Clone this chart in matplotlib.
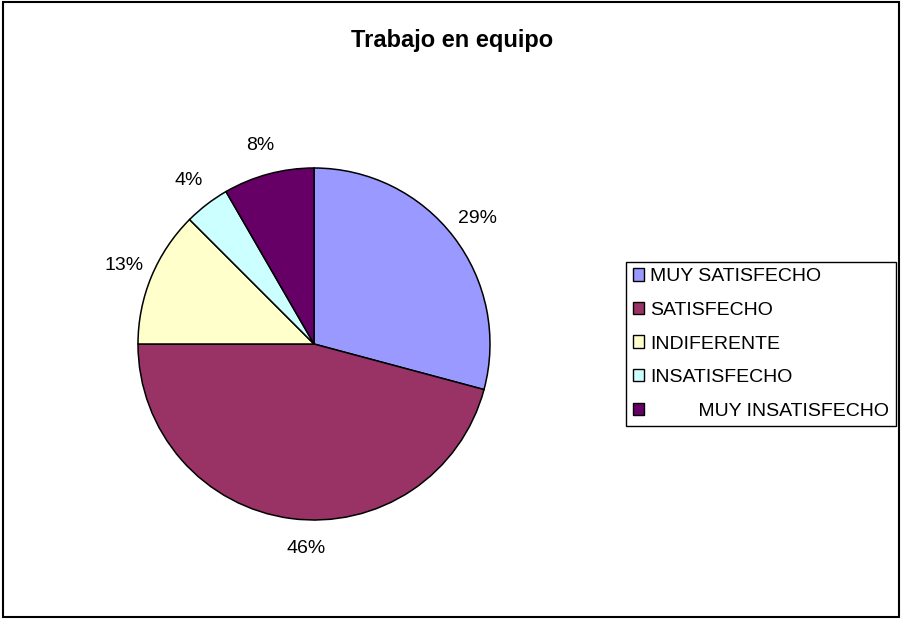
import math
import matplotlib
matplotlib.use("Agg")
import matplotlib.pyplot as plt
from matplotlib.patches import Rectangle

plt.rcParams['font.family'] = ['Liberation Sans', 'DejaVu Sans']

# Datos de la encuesta
categorias = ['MUY SATISFECHO', 'SATISFECHO', 'INDIFERENTE', 'INSATISFECHO',
              '         MUY INSATISFECHO']
respuestas = [7, 11, 3, 1, 2]
colores = ['#9999FF', '#993366', '#FFFFCC', '#CCFFFF', '#660066']

W, H = 901, 619
fig = plt.figure(figsize=(W / 100, H / 100), dpi=100)

# Marco exterior
fig.patches.append(Rectangle((3 / W, 2 / H), 896 / W, 615 / H, transform=fig.transFigure,
                             fill=False, edgecolor='black', linewidth=1.5))

# Pastel: centro (314, 344), radio 176 px
cx, cy, r = 314, 344, 176
ax = fig.add_axes([(cx - r) / W, (H - cy - r) / H, 2 * r / W, 2 * r / H])


def etiqueta(p):
    return '%d%%' % math.floor(p + 0.5)


wedges, texts, autotexts = ax.pie(respuestas, colors=colores, startangle=90, counterclock=False,
                                  autopct=etiqueta, pctdistance=1.17,
                                  wedgeprops=dict(edgecolor='black', linewidth=1.1),
                                  textprops=dict(fontsize=14))
ax.set_xlim(-1, 1)
ax.set_ylim(-1, 1)
ax.set_aspect('equal')

# ajuste de la etiqueta inferior como en el original
x0, y0 = autotexts[1].get_position()
autotexts[1].set_position((x0 + 0.11, y0))

fig.text(452 / W, 1 - 47 / H, 'Trabajo en equipo', ha='center', va='baseline',
         fontsize=17, fontweight='bold')

leg = fig.legend(wedges, categorias, loc='center left', bbox_to_anchor=(626 / W, 1 - 344 / H),
                 bbox_transform=fig.transFigure, fontsize=14, frameon=True, fancybox=False,
                 edgecolor='black', framealpha=1, handlelength=0.6, handleheight=0.6,
                 handletextpad=0.3, labelspacing=0.85, borderpad=0.35, borderaxespad=0)
leg.get_frame().set_linewidth(1.0)
for h in leg.legend_handles:
    h.set_edgecolor('black')
    h.set_linewidth(1.0)

fig.savefig('out.png', dpi=100)
